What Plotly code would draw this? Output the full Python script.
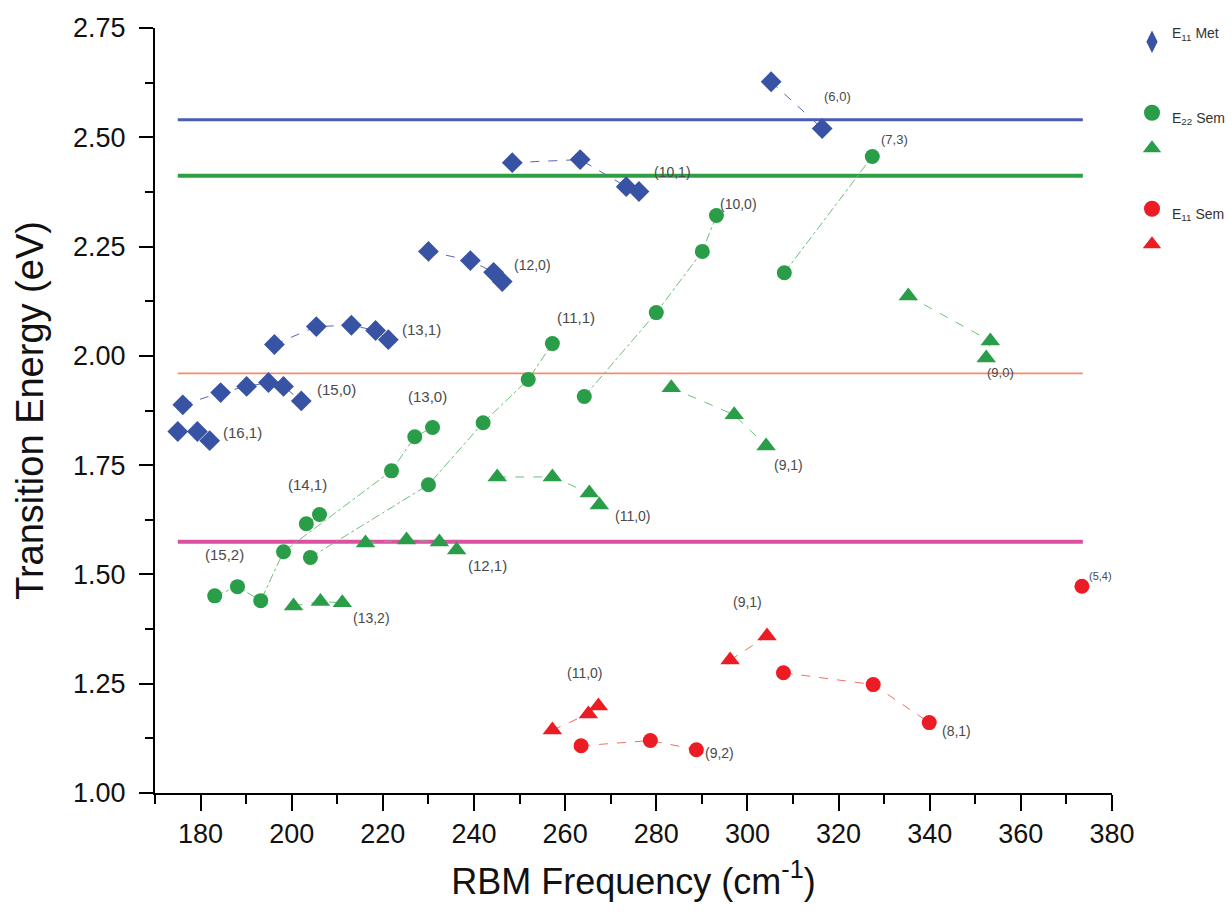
import plotly.graph_objects as go

# ---------------- data ----------------
# E11 metallic (blue diamonds): one list per chirality family
met_labels = ["(6,0)", "(10,1)", "(12,0)", "(13,1)", "(15,0)", "(16,1)"]
met_x = [[305.2, 316.4],
         [248.4, 263.3, 273.4, 276.2],
         [230.0, 239.2, 244.3, 246.2],
         [196.2, 205.4, 213.1, 218.4, 221.2],
         [176.1, 184.4, 190.1, 194.9, 198.2, 202.1],
         [175.0, 179.3, 182.0]]
met_y = [[2.627, 2.520],
         [2.442, 2.449, 2.387, 2.376],
         [2.239, 2.218, 2.191, 2.170],
         [2.026, 2.067, 2.070, 2.058, 2.037],
         [1.888, 1.916, 1.930, 1.939, 1.930, 1.897],
         [1.827, 1.827, 1.806]]

# E22 semiconducting, circles
e22c_x = [[183.1, 188.1, 193.2, 198.2, 221.9, 227.0, 230.9],
          [203.2, 206.1],
          [204.1, 230.0, 242.0, 251.9, 257.2],
          [264.2, 280.0, 290.1, 293.2],
          [308.1, 327.4]]
e22c_y = [[1.451, 1.472, 1.440, 1.552, 1.737, 1.815, 1.836],
          [1.616, 1.637],
          [1.539, 1.705, 1.847, 1.946, 2.028],
          [1.907, 2.099, 2.239, 2.321],
          [2.190, 2.456]]

# E22 semiconducting, triangles
e22t_x = [[200.4, 206.3, 211.1],
          [216.2, 225.2, 232.4, 236.2],
          [245.1, 257.2, 265.3, 267.5],
          [283.3, 297.1, 304.1],
          [335.3, 353.3, 352.4]]
e22t_y = [[1.428, 1.438, 1.435],
          [1.572, 1.579, 1.574, 1.556],
          [1.723, 1.723, 1.686, 1.659],
          [1.927, 1.865, 1.794],
          [2.137, 2.034, 1.995]]

# E11 semiconducting, circles
e11c_x = [[263.5, 278.7, 288.8],
          [307.9, 327.6, 339.9],
          [373.4]]
e11c_y = [[1.108, 1.120, 1.099],
          [1.275, 1.248, 1.161],
          [1.473]]

# E11 semiconducting, triangles
e11t_x = [[257.2, 265.1, 267.3],
          [296.2, 304.3]]
e11t_y = [[1.144, 1.181, 1.199],
          [1.304, 1.359]]

# horizontal reference energies (eV) and their frequency span
ref_levels = [2.540, 2.412, 1.960, 1.575]
ref_span = [175.0, 373.6]

# chirality labels: text, family, series index, point index
lab_text = ["(6,0)", "(10,1)", "(12,0)", "(13,1)", "(15,0)", "(16,1)",
            "(15,2)", "(13,0)", "(14,1)", "(11,1)", "(10,0)", "(7,3)",
            "(13,2)", "(12,1)", "(11,0)", "(9,1)", "(9,0)",
            "(9,2)", "(8,1)", "(5,4)", "(11,0)", "(9,1)"]
lab_family = ["met"] * 6 + ["e22c"] * 6 + ["e22t"] * 5 + ["e11c"] * 3 + ["e11t"] * 2
lab_series = [0, 1, 2, 3, 4, 5, 0, 0, 1, 2, 3, 4, 0, 1, 2, 3, 4, 0, 1, 2, 0, 1]
lab_point = [-1, -1, -1, -1, -1, -1, 0, -1, 0, -1, -1, -1, -1, -1, -1, -1, -1, -1, -1, 0, -1, -1]

# ---------------- styles ----------------
lab_dx = [15, 34, 30, 33, 35, 33, 10, -5, 1, 24, 22, 22, 29, 31, 34, 22, 14, 23, 27, 19, -13, -20]
lab_dy = [32, 19, 17, 10, 11, 8, 41, 31, 39, 26, 12, 17, -15, -16, -11, -19, -14, -3, -8, 10, 33, 34]
lab_size = [13, 14, 14, 15, 15, 15, 15, 15, 15, 15, 14, 13, 14, 15, 14, 14, 13, 14, 14, 11, 14, 14]

BLUE = "#3953a4"
GREEN = "#2a9d48"
RED = "#ec1c24"
FONT = "Liberation Sans, Arial, Helvetica, sans-serif"

families = {
    "met": (met_x, met_y, BLUE, "diamond", 16, "#5668b8", "dash"),
    "e22c": (e22c_x, e22c_y, GREEN, "circle", 15, "#6cc07a", "dashdot"),
    "e22t": (e22t_x, e22t_y, GREEN, "triangle-up", 17, "#6cc07a", "dash"),
    "e11c": (e11c_x, e11c_y, RED, "circle", 15, "#f07060", "dash"),
    "e11t": (e11t_x, e11t_y, RED, "triangle-up", 17, "#f07060", "dash"),
}
ref_colors = ["#4a5db2", "#2ea043", "#f58b6b", "#d9519f"]
ref_widths = [3, 4, 1.6, 4]

fig = go.Figure()

for lvl, col, w in zip(ref_levels, ref_colors, ref_widths):
    fig.add_trace(go.Scatter(x=ref_span, y=[lvl, lvl], mode="lines",
                             line=dict(color=col, width=w),
                             showlegend=False, hoverinfo="skip"))

for key, (xs, ys, col, sym, size, lcol, dash) in families.items():
    for sx, sy in zip(xs, ys):
        fig.add_trace(go.Scatter(x=sx, y=sy, mode="lines+markers",
                                 line=dict(color=lcol, width=1, dash=dash),
                                 marker=dict(color=col, symbol=sym, size=size,
                                             line=dict(width=0)),
                                 showlegend=False))

# legend entries
SMALL = "<span style='font-size:14px'>%s</span>"
legend_items = [
    ("E<sub>11</sub> Met<br> ", BLUE, "diamond-tall", "legend"),
    (SMALL % "E<sub>22</sub> Sem", GREEN, "circle", "legend2"),
    (" ", GREEN, "triangle-up", "legend2"),
    (SMALL % "E<sub>11</sub> Sem", RED, "circle", "legend3"),
    (" ", RED, "triangle-up", "legend3"),
]
for name, col, sym, lg in legend_items:
    fig.add_trace(go.Scatter(x=[None], y=[None], mode="markers", name=name,
                             marker=dict(color=col, symbol=sym, size=16),
                             legend=lg, showlegend=True))

annotations = []
for i, txt in enumerate(lab_text):
    xs, ys = families[lab_family[i]][0], families[lab_family[i]][1]
    s, p = lab_series[i], lab_point[i]
    annotations.append(dict(x=xs[s][p], y=ys[s][p], xref="x", yref="y",
                            text=txt, showarrow=False,
                            xshift=lab_dx[i], yshift=lab_dy[i],
                            font=dict(size=lab_size[i], color="#4a4a4a", family=FONT)))

W, H = 1232, 916
legend_common = dict(xref="container", yref="container", xanchor="left", yanchor="top",
                     bgcolor="rgba(0,0,0,0)", borderwidth=0, itemsizing="trace",
                     font=dict(family=FONT, color="#333333"))

fig.update_layout(
    width=W, height=H,
    margin=dict(l=155, r=120, t=28, b=123, autoexpand=False),
    paper_bgcolor="white", plot_bgcolor="white",
    font=dict(family=FONT, color="#111111"),
    annotations=annotations,
    legend=dict(legend_common, x=1132 / W, y=1 - 17 / H, font=dict(size=14, family=FONT, color="#333")),
    legend2=dict(legend_common, x=1132 / W, y=1 - 90 / H, font=dict(size=25, family=FONT, color="#333")),
    legend3=dict(legend_common, x=1132 / W, y=1 - 186 / H, font=dict(size=25, family=FONT, color="#333")),
    xaxis=dict(range=[170, 380], dtick=20, tick0=0, showgrid=False, zeroline=False,
               showline=True, linecolor="black", linewidth=2,
               ticks="outside", ticklen=16, tickwidth=2, tickcolor="black",
               tickfont=dict(size=27, family=FONT, color="#111"),
               minor=dict(dtick=10, ticks="outside", ticklen=9, tickwidth=2, tickcolor="black"),
               title=dict(text="RBM Frequency (cm<sup>-1</sup>)", font=dict(size=36, family=FONT, color="#111"),
                          standoff=20)),
    yaxis=dict(range=[1.0, 2.75], dtick=0.25, tick0=0, tickformat=".2f",
               showgrid=False, zeroline=False,
               showline=True, linecolor="black", linewidth=2,
               ticks="outside", ticklen=14, tickwidth=2, tickcolor="black",
               ticklabelstandoff=8,
               tickfont=dict(size=27, family=FONT, color="#111"),
               minor=dict(dtick=0.125, ticks="outside", ticklen=8, tickwidth=2, tickcolor="black"),
               title=dict(text="Transition Energy (eV)", font=dict(size=38, family=FONT, color="#111"),
                          standoff=18)),
)

fig.write_html("out.html")
